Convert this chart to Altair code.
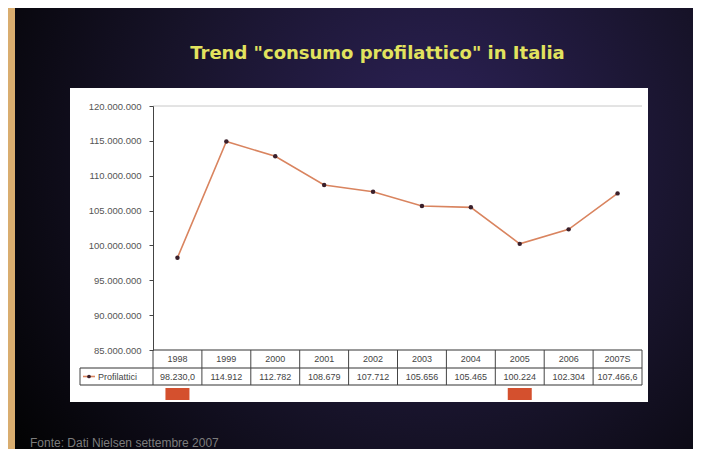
import altair as alt
import pandas as pd

# ---- data ----
years = ["1998", "1999", "2000", "2001", "2002", "2003", "2004", "2005", "2006", "2007S"]
consumo = [98230000, 114912000, 112782000, 108679000, 107712000, 105656000,
           105465000, 100224000, 102304000, 107466600]
value_labels = ["98.230,0", "114.912", "112.782", "108.679", "107.712", "105.656",
                "105.465", "100.224", "102.304", "107.466,6"]
highlight_years = ["1998", "2005"]
y_ticks = [85000000, 90000000, 95000000, 100000000, 105000000, 110000000, 115000000, 120000000]
title_text = 'Trend "consumo profilattico" in Italia'
source_text = "Fonte: Dati Nielsen settembre 2007"
series_name = "Profilattici"

df = pd.DataFrame({"anno": years, "consumo": consumo, "etichetta": value_labels})
hl = pd.DataFrame({"anno": highlight_years})
one = pd.DataFrame({"k": [0]})

# ---- layout (pixels) ----
CW, CH = 685, 441          # canvas
X0, Y0 = 145, 98           # view origin inside canvas
W, H = 489, 244            # plot area
ROW1 = H + 18              # line between year row and value row
ROW2 = H + 35              # bottom of table
LEG_X = -73                # left edge of legend cell

xscale = alt.Scale(type="band", domain=years, paddingInner=0, paddingOuter=0)
yscale = alt.Scale(domain=[85000000, 120000000], nice=False, zero=False)
yaxis = alt.Axis(values=y_ticks, format=",.0f", title=None, grid=False,
                 labelFont="Liberation Sans", labelFontSize=9.5, labelColor="#555555",
                 domainColor="#444444", tickColor="#444444", tickSize=4,
                 labelPadding=8, labelOverlap=False, labelFlush=False,
                 labelBound=False, zindex=1)

def xenc(bp=0.5):
    return alt.X("anno:N", scale=xscale, axis=None, bandPosition=bp)

def yenc():
    return alt.Y("consumo:Q", scale=yscale, axis=yaxis)

bg = alt.Chart(one).mark_rect(
    fill=alt.Gradient(
        gradient="radial",
        stops=[alt.GradientStop(color="#2d2258", offset=0),
               alt.GradientStop(color="#171329", offset=0.55),
               alt.GradientStop(color="#030304", offset=1)],
        x1=0.62, y1=0.38, x2=0.62, y2=0.38, r1=0, r2=0.75,
    )
).encode(x=alt.value(7 - X0), x2=alt.value(CW - X0), y=alt.value(-Y0), y2=alt.value(CH - Y0))

white = alt.Chart(one).mark_rect(fill="#ffffff").encode(
    x=alt.value(-83), x2=alt.value(495), y=alt.value(-18), y2=alt.value(296))

title = alt.Chart(one).mark_text(
    text=title_text, font="DejaVu Sans", fontWeight="bold", fontSize=18,
    color="#e2e35e", align="center", baseline="middle"
).encode(x=alt.value(W / 2 - 20), y=alt.value(-52))

source = alt.Chart(one).mark_text(
    text=source_text, font="Liberation Sans", fontSize=12, color="#7c7c7c",
    align="left", baseline="middle"
).encode(x=alt.value(-123), y=alt.value(337))

top_rule = alt.Chart(one).mark_rule(color="#c8c8c8", strokeWidth=1).encode(
    x=alt.value(0), x2=alt.value(W), y=alt.value(0))

line = alt.Chart(df).mark_line(color="#d9845f", strokeWidth=1.6).encode(
    x=xenc(), y=yenc())
points = alt.Chart(df).mark_circle(color="#3a1f2a", size=20, opacity=1).encode(
    x=xenc(), y=yenc())

# table
hrules = alt.Chart(pd.DataFrame({"yy": [H, ROW1, ROW2], "x0": [0, LEG_X, LEG_X]})).mark_rule(
    color="#333333", strokeWidth=1
).encode(x=alt.X("x0:Q", scale=None), x2=alt.value(W), y=alt.Y("yy:Q", scale=None))

vrules = alt.Chart(df).mark_rule(color="#444444", strokeWidth=1).encode(
    x=xenc(0), y=alt.value(H), y2=alt.value(ROW2))
vr_end = alt.Chart(pd.DataFrame({"xx": [W, LEG_X], "y0": [H, ROW1]})).mark_rule(
    color="#444444", strokeWidth=1
).encode(x=alt.X("xx:Q", scale=None), y=alt.Y("y0:Q", scale=None), y2=alt.value(ROW2))

year_text = alt.Chart(df).mark_text(
    font="Liberation Sans", fontSize=9, color="#444444", baseline="middle"
).encode(x=xenc(), y=alt.value((H + ROW1) / 2), text="anno:N")

val_text = alt.Chart(df).mark_text(
    font="Liberation Sans", fontSize=9, color="#444444", baseline="middle"
).encode(x=xenc(), y=alt.value((ROW1 + ROW2) / 2), text="etichetta:N")

leg_line = alt.Chart(one).mark_rule(color="#d9845f", strokeWidth=1.6).encode(
    x=alt.value(-70), x2=alt.value(-58), y=alt.value((ROW1 + ROW2) / 2))
leg_pt = alt.Chart(one).mark_circle(color="#3a1f2a", size=14, opacity=1).encode(
    x=alt.value(-64), y=alt.value((ROW1 + ROW2) / 2))
leg_text = alt.Chart(one).mark_text(
    text=series_name, font="Liberation Sans", fontSize=9, color="#444444",
    align="left", baseline="middle"
).encode(x=alt.value(-55), y=alt.value((ROW1 + ROW2) / 2))

marks_hl = alt.Chart(hl).mark_bar(color="#d4502e", size=24).encode(
    x=xenc(), y=alt.value(ROW2 + 3), y2=alt.value(ROW2 + 15))

chart = alt.layer(
    bg, white, title, source, top_rule, hrules, vrules, vr_end,
    year_text, val_text, leg_line, leg_pt, leg_text, marks_hl, line, points
).properties(
    width=W, height=H,
    autosize=alt.AutoSizeParams(type="none"),
    padding={"left": X0, "top": Y0, "right": CW - X0 - W, "bottom": CH - Y0 - H},
    background="#d9ad6f",
).configure_view(stroke=None, fill=None).configure_axis(
    labelOverlap=False
).configure(
    locale={"number": {"decimal": ",", "thousands": ".", "grouping": [3], "currency": ["€", ""]}}
)

chart.save("out.html", embed_options={"renderer": "svg", "actions": False})
